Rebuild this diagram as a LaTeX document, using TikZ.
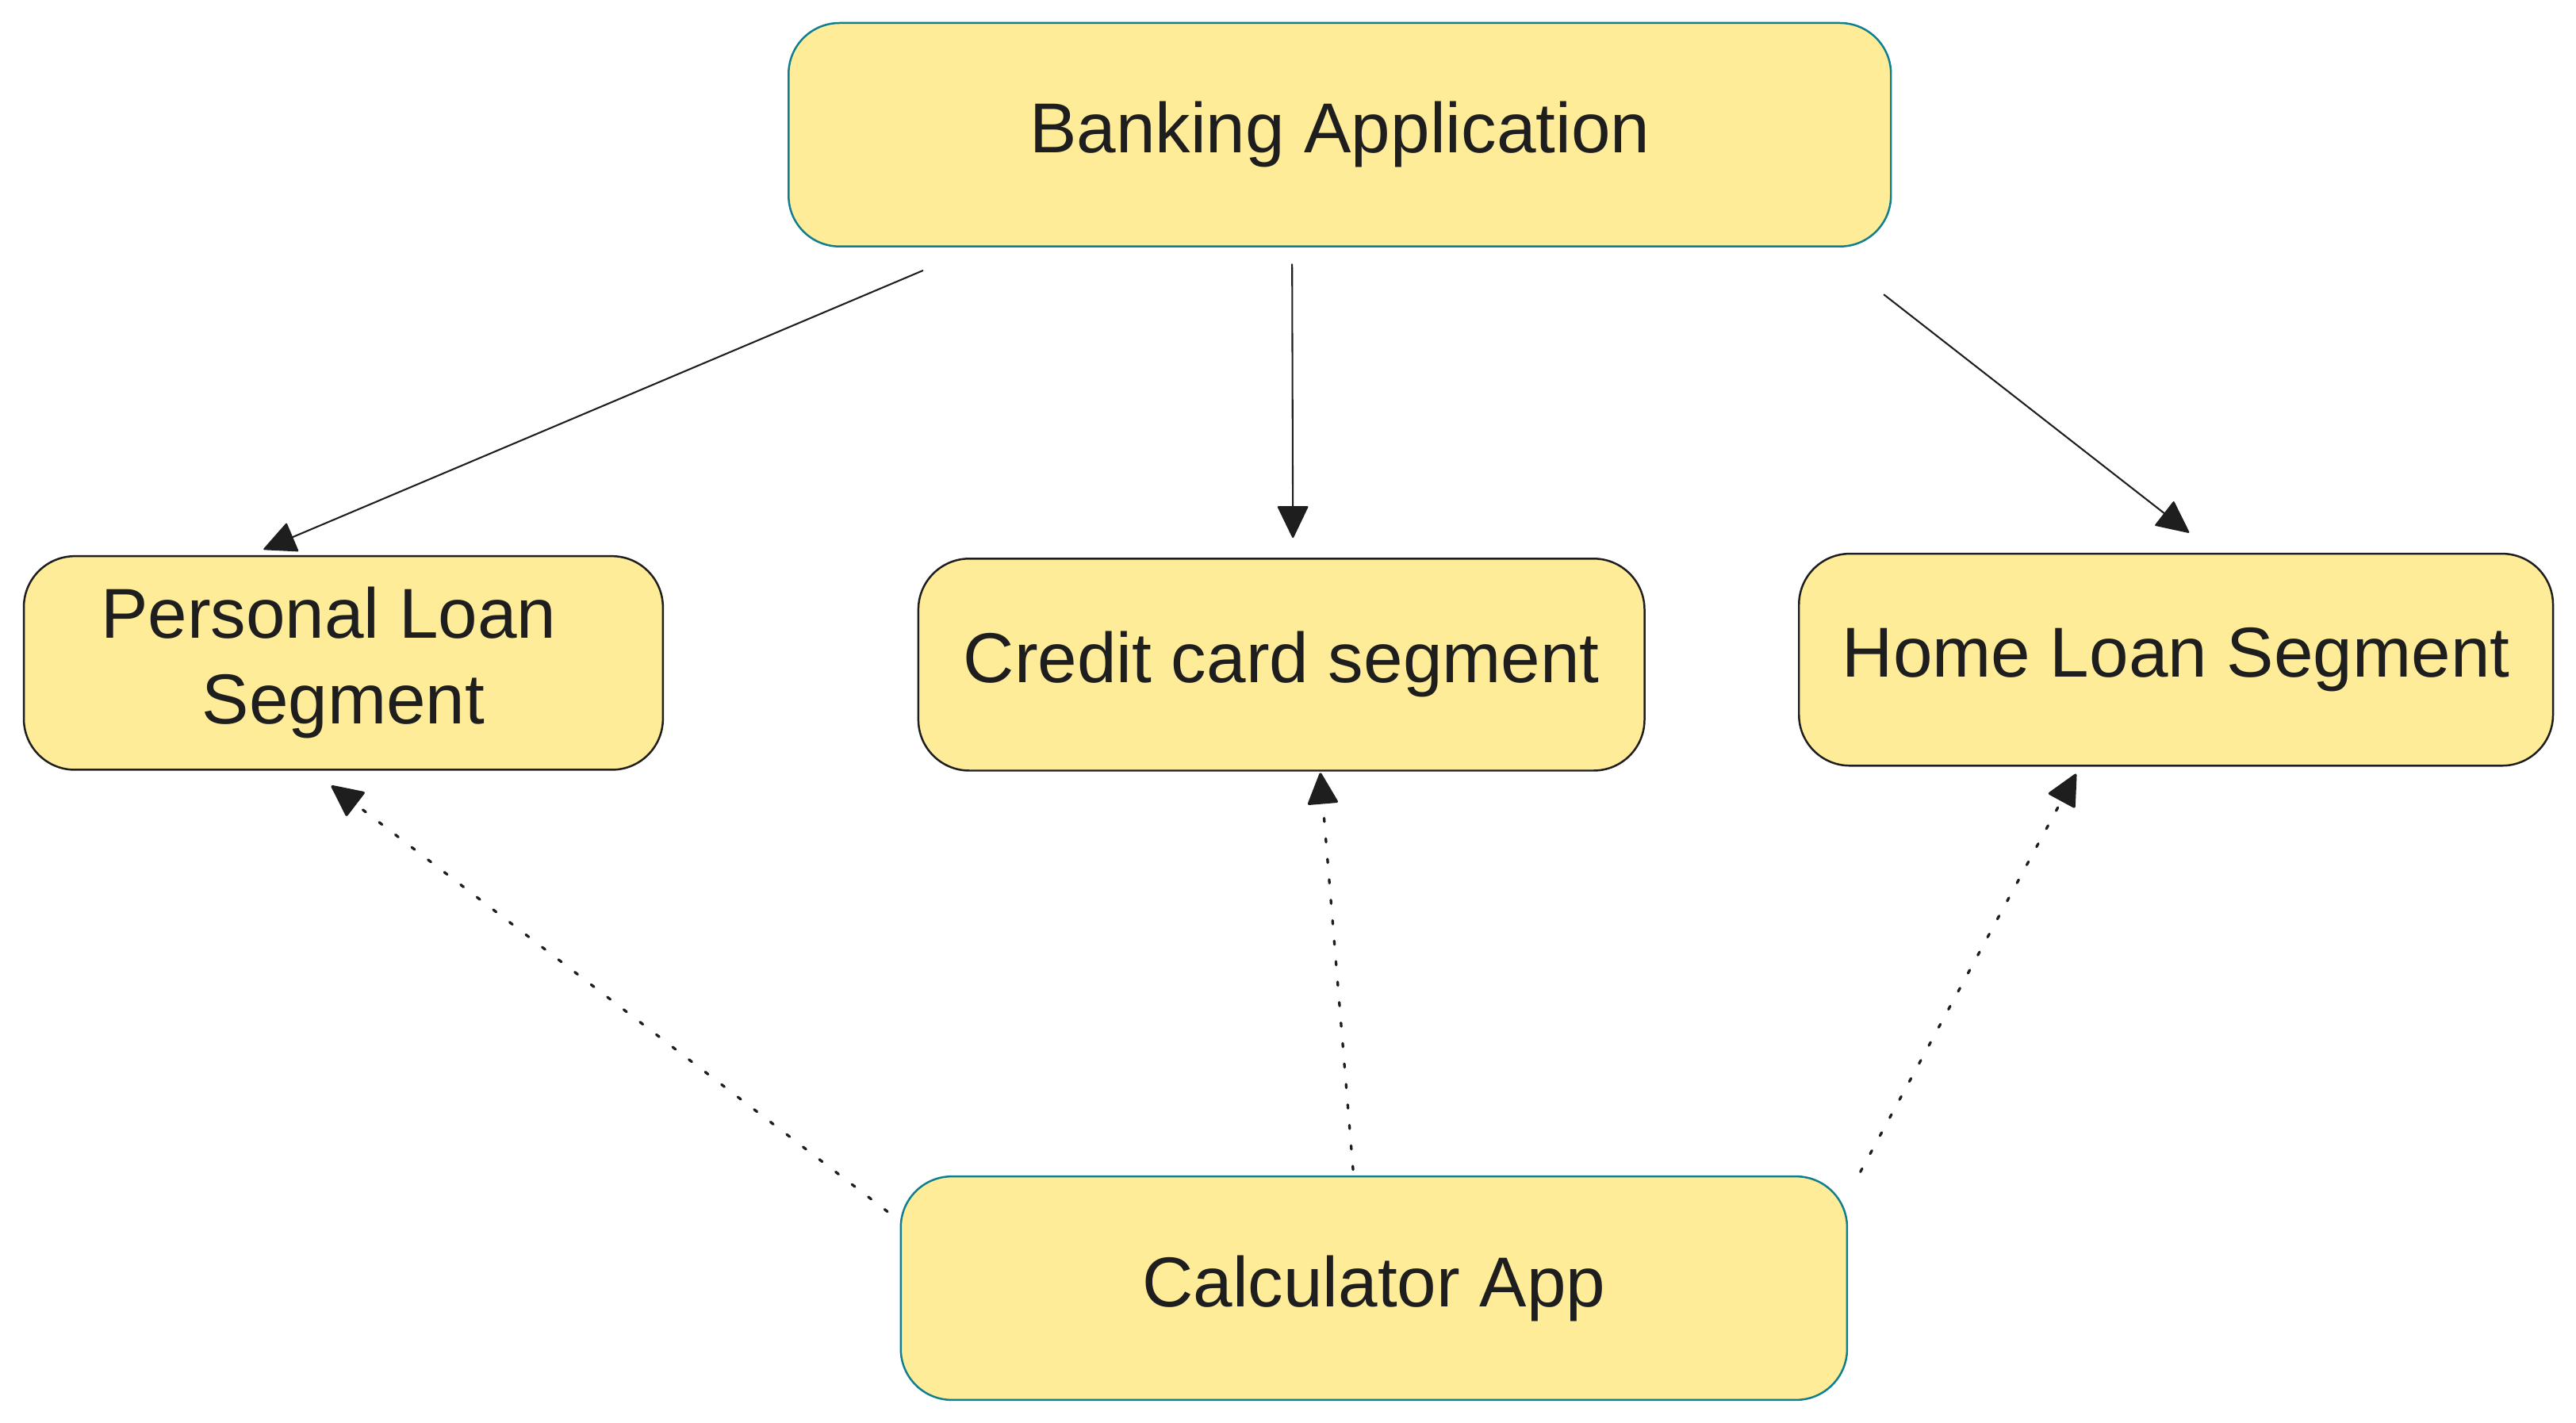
\documentclass[tikz,border=0pt]{standalone}
\usepackage{fontspec}
\setmainfont{Liberation Sans}
\usetikzlibrary{arrows.meta,calc}
\definecolor{boxfill}{HTML}{FFEC99}
\definecolor{tealline}{HTML}{0F7F90}
\definecolor{ink}{HTML}{1E1E1E}
\begin{document}
\begin{tikzpicture}[x=1pt,y=-1pt,
  box/.style={draw=ink, fill=boxfill, line width=1.2pt, rounded corners=31pt,
    text=ink, font=\fontsize{43}{52}\selectfont, inner sep=0pt, align=center},
  tealbox/.style={box, draw=tealline},
  conn/.style={draw=ink, line width=1pt, -{Triangle[length=20pt,width=19pt,round]}},
  dotconn/.style={conn, line width=1.6pt, line cap=round, dash pattern=on 2.2pt off 10.3pt}]
\path[use as bounding box, fill=white] (0,0) rectangle (1568,866);

\node[tealbox, minimum width=671pt, minimum height=136pt] (bank) at (815.5,82) {Banking Application};
\node[box, minimum width=389pt, minimum height=130pt] (personal) at (209,403.5) {Personal Loan\hspace*{18pt}\\Segment};
\node[box, minimum width=442pt, minimum height=129pt] (credit) at (780,404.5) {Credit card segment};
\node[box, minimum width=459pt, minimum height=129pt] (home) at (1324.5,401.5) {Home Loan Segment};
\node[tealbox, minimum width=576pt, minimum height=136pt] (calc) at (836.3,784) {Calculator App};

\draw[conn] ($(bank.south west)+(82.5,14)$) -- ($(personal.north west)+(146.5,-3.5)$);
\draw[conn] ($(bank.south)+(-29,10)$) -- ($(credit.north)+(7,-12)$);
\draw[conn] ($(bank.south east)+(-5,28.6)$) -- ($(home.north)+(8,-12.2)$);

\draw[dotconn] ($(calc.north west)+(-7.5,22)$) -- ($(personal.south)+(-7.3,9.1)$);
\draw[dotconn] ($(calc.north)+(-12.7,-3.5)$) -- ($(credit.south)+(23.7,0.8)$);
\draw[dotconn] ($(calc.north east)+(7.5,-2.2)$) -- ($(home.south)+(-60.8,4.4)$);
\end{tikzpicture}
\end{document}
